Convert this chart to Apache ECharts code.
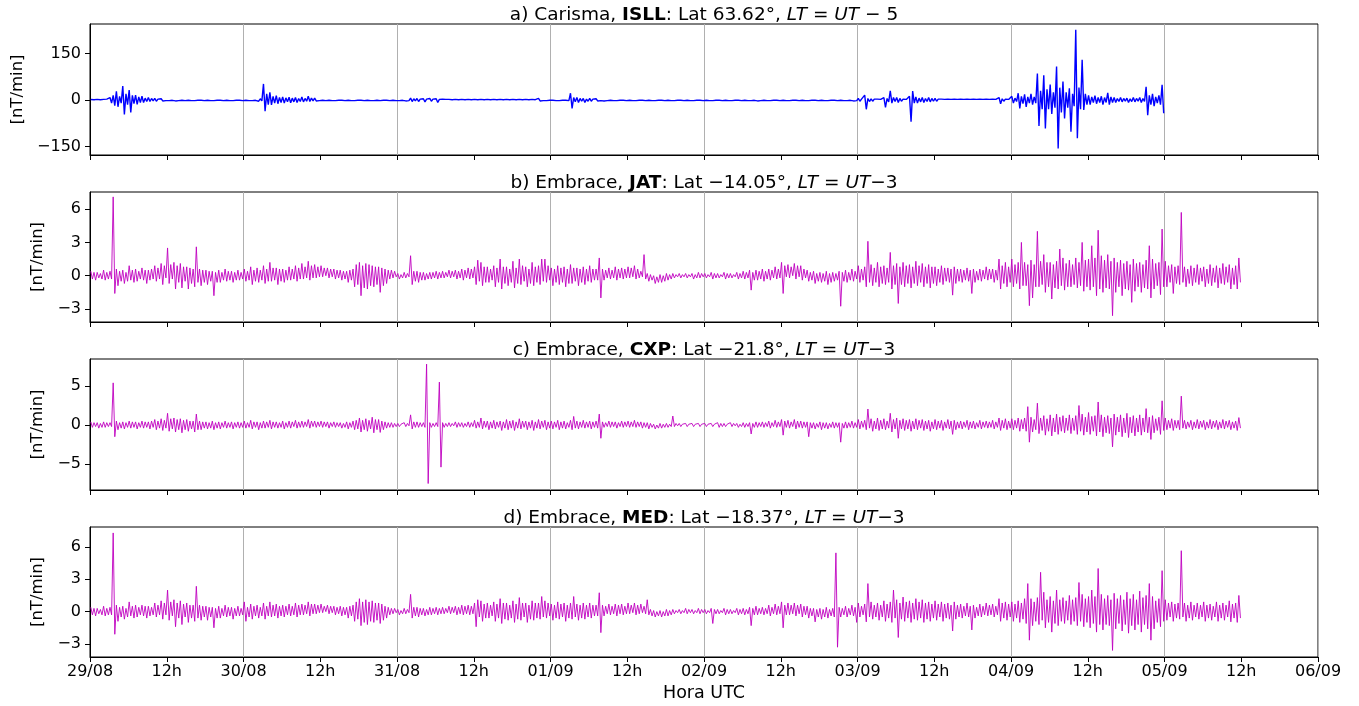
<!DOCTYPE html>
<html><head><meta charset="utf-8">
<script src="https://cdn.jsdelivr.net/npm/echarts@6/dist/echarts.min.js"></script>
<style>html,body{margin:0;padding:0;background:#fff}#c{width:1359px;height:706px}</style>
</head><body><div id="c"></div>
<script>
// ---- tick labels ----
const dayLabels = ['29/08','30/08','31/08','01/09','02/09','03/09','04/09','05/09','06/09'];
const halfDayLabel = '12h';
const xAxisName = 'Hora UTC';
const yAxisName = '[nT/min]';

// Values are half-hourly max / min (nT/min);
// entry k covers hours [k/2, k/2 + 0.5) after 29/08 00h UTC.

// ---- panel a) Carisma ISLL ----
const aHi = [
 1.5,1, 2,1, 2,3, 8,15, 28,12, 45,20,
 32,15, 16,10, 12,6, 8,5, 5,3, 4,3,
 3,2, 4,2, 2,1, 2,1, 3,1, 2,1,
 2,1, 2,1, 3,1, 2,1, 2,1, 2,1,
 2,1, 2,1, 3,4, 52,20, 25,12, 14,8,
 10,7, 9,6, 8,5, 10,5, 12,6, 6,3,
 3,1, 2,1, 2,1, 2,1, 2,1, 2,1,
 2,1, 2,1, 3,1, 4,2, 2,1, 2,1,
 2,1, 3,2, 6,4, 5,3, 4,3, 5,3,
 4,2, 3,2, 2,1, 2,1, 2,1, 2,1,
 2,1, 2,1, 2,1, 2,1, 2,1, 2,1,
 2,1, 2,1, 2,1, 2,1, 5,3, 3,2,
 2,1, 2,1, 2,1, 22,8, 8,5, 5,3,
 5,3, 4,2, 3,2, 2,1, 2,1, 2,1,
 2,1, 2,1, 2,1, 2,1, 2,1, 2,1,
 2,1, 2,1, 2,1, 2,1, 2,1, 2,1,
 2,1, 2,1, 2,1, 2,1, 2,1, 2,1,
 2,1, 2,1, 4,2, 2,1, 2,1, 2,1,
 2,1, 2,1, 2,1, 2,1, 2,1, 2,1,
 2,1, 2,1, 2,1, 2,1, 2,1, 3,2,
 5,3, 16,5, 4,3, 3,2, 8,5, 30,8,
 8,5, 3,2, 12,29, 10,6, 8,5, 8,5,
 5,3, 3,2, 3,2, 3,2, 3,2, 3,2,
 3,2, 3,2, 3,2, 3,2, 8,4, 3,2,
 12,6, 22,12, 18,10, 20,10, 86,30, 80,35,
 50,25, 108,40, 60,25, 38,20, 227,40, 130,20,
 15,10, 14,8, 12,8, 23,10, 8,5, 8,5,
 6,4, 8,5, 8,5, 43,15, 20,10, 15,49];
const aLo = [
 -1,-1.5, -1,-1.5, -2,-1, -10,-18, -22,-10, -47,-15,
 -40,-12, -14,-8, -8,-5, -5,-3, -4,-2, -3,-2,
 -2,-1, -3,-2, -1,-2, -1,-2, -2,-1, -1,-2,
 -1,-2, -2,-1, -1,-2, -1,-2, -2,-1, -1,-2,
 -1,-2, -2,-1, -4,-3, -36,-15, -16,-10, -12,-8,
 -10,-6, -9,-6, -8,-5, -6,-4, -5,-3, -3,-2,
 -1,-2, -1,-2, -2,-1, -1,-2, -1,-2, -2,-1,
 -1,-2, -1,-2, -2,-1, -2,-1, -1,-2, -1,-2,
 -2,-1, -3,-2, -5,-3, -5,-3, -6,-3, -4,-2,
 -8,-3, -3,-2, -1,-2, -2,-1, -1,-2, -1,-2,
 -2,-1, -1,-2, -1,-2, -2,-1, -1,-2, -1,-2,
 -2,-1, -1,-2, -1,-2, -2,-1, -3,-2, -2,-1,
 -1,-2, -2,-1, -1,-2, -27,-6, -8,-4, -8,-4,
 -4,-2, -3,-2, -3,-2, -1,-2, -2,-1, -1,-2,
 -1,-2, -2,-1, -1,-2, -1,-2, -2,-1, -1,-2,
 -1,-2, -2,-1, -1,-2, -1,-2, -2,-1, -1,-2,
 -1,-2, -2,-1, -1,-2, -1,-2, -2,-1, -1,-2,
 -1,-2, -2,-1, -3,-2, -1,-2, -2,-1, -1,-2,
 -1,-2, -2,-1, -1,-2, -1,-2, -2,-1, -1,-2,
 -1,-2, -2,-1, -1,-2, -1,-2, -2,-1, -3,-2,
 -4,-3, -30,-5, -4,-3, -3,-2, -24,-6, -10,-5,
 -8,-4, -3,-2, -70,-10, -10,-6, -8,-5, -6,-4,
 -4,-2, -2,-1, -2,-1, -2,-1, -2,-1, -2,-1,
 -2,-1, -2,-1, -2,-1, -2,-1, -12,-4, -3,-2,
 -10,-5, -27,-12, -22,-10, -15,-10, -84,-30, -92,-30,
 -45,-25, -157,-40, -60,-25, -103,-20, -124,-30, -32,-15,
 -15,-8, -12,-8, -15,-8, -15,-8, -8,-5, -6,-4,
 -8,-5, -6,-4, -8,-5, -49,-15, -20,-10, -15,-43];

// ---- panel b) Embrace JAT ----
const bHi = [
 0.4,0.3, 0.3,0.2, 0.5,0.3, 0.4,7.1, 0.6,0.4, 0.5,0.3,
 0.9,0.5, 0.6,0.4, 0.7,0.5, 0.5,0.6, 0.9,0.7, 1.1,0.9,
 2.5,1.0, 1.2,0.9, 1.1,0.8, 0.8,0.7, 0.6,2.6, 0.6,0.5,
 0.5,0.4, 0.4,0.3, 0.5,0.3, 0.6,0.4, 0.4,0.3, 0.5,0.3,
 0.6,0.4, 0.8,0.5, 0.7,0.5, 0.9,0.6, 1.2,0.7, 0.7,0.6,
 0.6,0.5, 0.8,0.6, 0.9,0.7, 1.1,0.8, 1.3,0.9, 1.0,0.8,
 0.9,0.7, 0.7,0.6, 0.6,0.5, 0.5,0.4, 0.4,0.5, 0.6,1.0,
 1.2,0.9, 1.1,1.0, 0.9,0.8, 0.8,0.7, 0.6,0.5, 0.5,0.4,
 0.2,0.1, 0.3,0.2, 1.8,0.4, 0.4,0.3, 0.3,0.2, 0.3,0.3,
 0.4,0.3, 0.4,0.3, 0.5,0.4, 0.5,0.4, 0.6,0.5, 0.7,0.6,
 0.8,1.4, 1.2,0.8, 0.8,0.6, 0.9,0.7, 1.5,0.8, 0.8,0.6,
 1.3,0.7, 1.5,0.9, 0.8,0.6, 1.2,0.8, 0.9,1.5, 1.5,0.9,
 0.7,0.6, 0.9,0.7, 0.8,0.6, 1.0,0.7, 0.7,0.6, 0.8,0.6,
 0.9,0.6, 0.6,1.6, 0.6,0.5, 0.7,0.5, 0.8,0.6, 0.7,0.6,
 0.8,0.7, 0.9,0.6, 0.4,1.9, 0.2,0.1, 0.0,-0.1, 0.1,0.0,
 0.2,0.1, 0.2,0.1, 0.2,0.1, 0.2,0.1, 0.2,0.1, 0.3,0.2,
 0.2,0.1, 0.3,0.2, 0.2,0.1, 0.3,0.2, 0.2,0.1, 0.3,0.2,
 0.4,0.3, 0.5,0.3, 0.5,0.4, 0.6,0.4, 0.6,0.5, 0.8,0.6,
 1.2,0.9, 1.0,0.8, 1.1,0.9, 0.9,0.6, 0.5,0.3, 0.4,0.2,
 0.3,0.2, 0.4,0.2, 0.3,0.2, 0.4,0.3, 0.5,0.3, 0.6,0.4,
 0.9,0.6, 0.8,3.1, 1.0,0.7, 1.2,0.8, 0.9,0.7, 2.1,0.9,
 1.1,0.8, 1.2,0.9, 1.0,0.8, 1.3,0.9, 1.1,0.8, 1.0,0.8,
 0.8,0.6, 0.9,0.7, 0.7,0.6, 0.8,0.6, 0.6,0.5, 0.7,0.5,
 0.6,0.4, 0.6,0.5, 0.8,0.6, 0.6,0.5, 1.5,0.9, 1.2,0.8,
 1.5,1.0, 1.2,3.0, 1.2,1.0, 1.4,1.0, 4.0,1.3, 1.9,1.2,
 1.2,1.0, 1.3,2.4, 1.6,1.1, 1.4,1.0, 1.6,1.2, 3.0,1.4,
 1.5,2.7, 1.6,4.1, 1.8,1.4, 1.9,1.3, 1.6,1.2, 1.4,1.1,
 1.3,1.0, 1.5,1.1, 1.2,1.0, 1.4,2.7, 1.5,1.1, 1.2,4.2,
 1.3,0.9, 1.0,0.8, 0.9,5.7, 0.8,0.6, 0.9,0.7, 1.0,0.7,
 0.8,0.6, 1.0,0.7, 0.9,0.7, 1.1,0.8, 1.0,0.7, 0.9,1.6];
const bLo = [
 -0.3,-0.4, -0.2,-0.3, -0.4,-0.3, -0.3,-1.6, -0.9,-0.5, -0.7,-0.5,
 -0.4,-0.6, -0.5,-0.3, -0.4,-0.7, -0.4,-0.3, -0.5,-0.3, -0.8,-0.2,
 -0.7,-0.3, -1.2,-0.6, -1.1,-0.5, -1.2,-0.7, -1.0,-0.6, -0.9,-0.6,
 -0.8,-0.5, -1.8,-0.6, -0.6,-0.4, -0.5,-0.4, -0.6,-0.4, -0.4,-0.3,
 -0.5,-0.4, -0.8,-0.5, -0.6,-0.4, -0.7,-0.5, -0.5,-0.4, -0.8,-0.5,
 -0.6,-0.4, -0.4,-0.3, -0.5,-0.3, -0.3,-0.2, -0.4,-0.2, -0.2,-0.1,
 -0.1,0.0, -0.2,-0.1, -0.3,-0.2, -0.4,-0.3, -0.6,-0.4, -1.0,-0.8,
 -1.8,-1.1, -1.2,-0.9, -1.0,-0.8, -1.5,-0.9, -0.7,-0.3, -0.2,-0.1,
 -0.3,-0.2, -0.2,-0.1, -0.8,-0.5, -0.6,-0.4, -0.4,-0.3, -0.3,-0.2,
 -0.3,-0.2, -0.2,-0.1, -0.2,-0.1, -0.3,-0.2, -0.4,-0.2, -0.3,-0.2,
 -0.8,-0.5, -0.9,-0.6, -0.6,-0.4, -1.0,-0.6, -1.2,-0.7, -0.9,-0.6,
 -1.1,-0.7, -0.8,-0.5, -1.0,-0.7, -0.9,-0.6, -0.8,-0.5, -0.6,-0.4,
 -0.9,-0.6, -0.8,-0.6, -1.0,-0.7, -0.7,-0.5, -0.9,-0.6, -0.8,-0.5,
 -0.6,-0.4, -0.4,-2.0, -0.4,-0.2, -0.3,-0.2, -0.4,-0.2, -0.3,-0.2,
 -0.2,-0.1, -0.3,-0.2, -0.1,-0.3, -0.5,-0.4, -0.7,-0.6, -0.6,-0.5,
 -0.4,-0.3, -0.2,-0.1, -0.2,-0.1, -0.2,-0.1, -0.3,-0.2, -0.2,-0.1,
 -0.2,-0.1, -0.3,-0.2, -0.2,-0.1, -0.3,-0.2, -0.2,-0.1, -0.3,-0.2,
 -0.3,-0.2, -1.3,-0.4, -0.4,-0.3, -0.5,-0.3, -0.4,-0.2, -0.3,-0.2,
 -1.6,-0.1, -0.2,0.0, -0.3,-0.1, -0.4,-0.2, -0.5,-0.4, -0.7,-0.5,
 -0.6,-0.5, -0.8,-0.6, -0.5,-0.4, -2.75,-0.5, -0.6,-0.4, -0.5,-0.3,
 -0.6,-0.4, -1.0,-0.6, -0.9,-0.6, -1.0,-0.7, -0.8,-0.6, -1.2,-0.8,
 -2.5,-0.8, -1.0,-0.7, -1.1,-0.7, -0.9,-0.6, -1.0,-0.7, -1.1,-0.7,
 -0.9,-0.6, -0.8,-0.5, -0.6,-1.75, -0.7,-0.5, -0.6,-0.4, -0.5,-1.6,
 -0.6,-0.4, -0.5,-0.3, -0.4,-0.3, -0.6,-0.4, -1.2,-0.7, -1.0,-0.6,
 -1.0,-0.7, -1.2,-0.9, -0.9,-2.7, -2.0,-1.0, -1.0,-0.8, -1.5,-1.0,
 -2.1,-1.1, -1.2,-0.9, -1.3,-1.0, -1.0,-0.8, -1.1,-0.9, -1.4,-1.0,
 -1.3,-1.0, -1.8,-1.2, -1.5,-1.1, -1.2,-3.6, -1.5,-1.0, -1.8,-1.2,
 -1.3,-2.4, -1.4,-1.0, -1.5,-1.1, -1.2,-2.0, -1.2,-0.9, -1.7,-1.0,
 -1.0,-0.6, -1.6,-0.7, -0.8,-0.6, -1.0,-0.7, -0.9,-0.6, -0.8,-0.5,
 -1.0,-0.7, -0.9,-0.6, -1.1,-0.7, -0.8,-0.6, -1.2,-0.8, -1.2,-0.6];

// ---- panel c) Embrace CXP ----
const cHi = [
 0.4,0.3, 0.3,0.2, 0.4,0.3, 0.3,5.4, 0.5,0.3, 0.4,0.3,
 0.5,0.4, 0.4,0.3, 0.5,0.4, 0.4,0.5, 0.7,0.5, 0.8,0.6,
 1.5,0.8, 0.9,0.7, 0.8,0.6, 0.7,0.5, 0.5,1.4, 0.5,0.4,
 0.4,0.3, 0.5,0.3, 0.4,0.3, 0.5,0.3, 0.4,0.3, 0.4,0.3,
 0.5,0.3, 0.6,0.4, 0.4,0.3, 0.5,0.4, 0.6,0.4, 0.4,0.3,
 0.5,0.3, 0.5,0.4, 0.6,0.4, 0.5,0.4, 0.7,0.5, 0.5,0.4,
 0.5,0.4, 0.4,0.3, 0.4,0.3, 0.3,0.2, 0.4,0.3, 0.5,0.6,
 0.9,0.6, 0.8,0.6, 1.0,0.7, 0.7,0.5, 0.4,0.3, 0.3,0.2,
 0.2,0.1, 0.3,0.2, 1.3,0.4, 0.4,0.3, 0.3,7.8, 0.3,0.2,
 0.3,5.5, 0.3,0.2, 0.3,0.2, 0.4,0.3, 0.3,0.2, 0.4,0.3,
 0.6,0.4, 0.9,0.5, 0.5,0.4, 0.6,0.4, 0.5,0.4, 0.7,0.5,
 0.6,0.4, 0.8,0.5, 0.5,0.4, 0.6,0.4, 0.7,0.5, 0.6,0.4,
 0.5,0.4, 0.6,0.4, 0.5,0.3, 0.6,1.1, 0.5,0.4, 0.6,0.4,
 0.5,0.4, 0.5,1.4, 0.4,0.3, 0.5,0.4, 0.4,0.3, 0.5,0.4,
 0.5,0.4, 0.6,0.4, 0.4,0.3, 0.3,0.2, 0.1,0.0, 0.2,0.1,
 0.2,0.1, 1.15,0.2, 0.2,0.1, 0.2,0.1, 0.2,0.1, 0.2,0.1,
 0.2,0.1, 0.2,0.1, 0.3,0.2, 0.2,0.1, 0.3,0.2, 0.2,0.1,
 0.3,0.2, 0.3,0.2, 0.4,0.3, 0.4,0.3, 0.5,0.3, 0.6,0.4,
 0.7,0.5, 0.6,0.4, 0.7,0.5, 0.5,0.4, 0.4,0.3, 0.3,0.2,
 0.4,0.3, 0.3,0.2, 0.4,0.3, 0.3,0.2, 0.4,0.3, 0.5,0.3,
 0.7,0.5, 0.6,2.05, 0.8,0.5, 0.9,0.6, 0.8,0.5, 1.5,0.7,
 0.9,0.6, 0.8,0.6, 0.7,0.5, 0.8,0.6, 0.7,0.5, 0.6,0.4,
 0.7,0.5, 0.6,0.4, 0.7,0.5, 0.6,0.4, 0.5,0.4, 0.6,0.4,
 0.5,0.3, 0.6,0.4, 0.5,0.4, 0.6,0.4, 0.9,0.6, 0.8,0.5,
 0.8,0.6, 0.9,0.7, 0.9,2.35, 1.0,0.7, 2.8,0.9, 1.2,0.8,
 1.3,0.9, 1.4,1.0, 1.2,0.9, 1.3,0.9, 1.2,2.5, 1.4,1.0,
 1.6,1.1, 1.2,2.95, 1.3,1.0, 1.2,0.9, 1.4,1.0, 1.3,0.9,
 1.5,1.0, 1.2,0.9, 1.3,0.9, 2.1,1.0, 1.2,0.8, 1.0,3.1,
 0.9,0.6, 0.8,0.6, 0.6,3.7, 0.6,0.4, 0.6,0.4, 0.7,0.5,
 0.6,0.4, 0.7,0.5, 0.6,0.4, 0.7,0.5, 0.6,0.4, 0.5,0.95];
const cLo = [
 -0.3,-0.2, -0.4,-0.3, -0.3,-0.2, -0.2,-1.5, -0.6,-0.4, -0.5,-0.3,
 -0.4,-0.3, -0.5,-0.3, -0.4,-0.3, -0.5,-0.3, -0.6,-0.4, -0.7,-0.4,
 -0.8,-0.5, -0.9,-0.6, -1.0,-0.6, -0.8,-0.5, -0.9,-0.6, -0.6,-0.4,
 -0.5,-0.4, -0.6,-0.4, -0.5,-0.3, -0.4,-0.3, -0.5,-0.3, -0.4,-0.3,
 -0.4,-0.3, -0.5,-0.3, -0.6,-0.4, -0.4,-0.3, -0.5,-0.3, -0.4,-0.3,
 -0.5,-0.3, -0.4,-0.2, -0.4,-0.3, -0.3,-0.2, -0.4,-0.2, -0.3,-0.2,
 -0.3,-0.2, -0.4,-0.2, -0.3,-0.2, -0.4,-0.3, -0.5,-0.3, -0.6,-0.5,
 -0.9,-0.6, -0.8,-0.5, -1.0,-0.6, -0.95,-0.6, -0.4,-0.3, -0.3,-0.2,
 -0.2,-0.1, -0.2,-0.1, -0.5,-0.3, -0.3,-0.2, -0.3,-7.5, -0.3,-0.2,
 -0.2,-5.4, -0.3,-0.2, -0.2,-0.1, -0.3,-0.2, -0.3,-0.2, -0.3,-0.2,
 -0.4,-0.3, -0.5,-0.3, -0.6,-0.4, -0.5,-0.3, -0.7,-0.4, -0.6,-0.4,
 -0.7,-0.4, -0.5,-0.3, -0.6,-0.4, -0.7,-0.4, -0.5,-0.3, -0.6,-0.4,
 -0.5,-0.3, -0.6,-0.4, -0.5,-0.3, -0.6,-0.4, -0.5,-0.3, -0.4,-0.3,
 -0.5,-0.3, -0.4,-1.7, -0.3,-0.2, -0.3,-0.2, -0.4,-0.2, -0.3,-0.2,
 -0.3,-0.2, -0.3,-0.2, -0.4,-0.3, -0.5,-0.3, -0.5,-0.4, -0.4,-0.3,
 -0.3,-0.2, -0.2,-0.1, -0.2,-0.1, -0.2,-0.1, -0.2,-0.1, -0.2,-0.1,
 -0.2,-0.1, -0.2,-0.1, -0.3,-0.2, -0.2,-0.1, -0.2,-0.1, -0.3,-0.2,
 -0.3,-0.2, -1.15,-0.3, -0.3,-0.2, -0.3,-0.2, -0.4,-0.2, -0.3,-0.2,
 -1.3,-0.3, -0.4,-0.2, -0.5,-0.3, -0.4,-0.3, -1.5,-0.4, -0.5,-0.3,
 -0.6,-0.4, -0.5,-0.3, -0.4,-0.3, -2.2,-0.4, -0.4,-0.3, -0.4,-0.3,
 -0.5,-0.3, -0.6,-0.4, -0.8,-0.5, -0.7,-0.5, -0.6,-0.4, -0.9,-0.5,
 -1.7,-0.5, -0.7,-0.5, -0.8,-0.5, -0.6,-0.4, -0.7,-0.5, -0.8,-0.5,
 -0.6,-0.4, -0.7,-0.4, -0.5,-1.2, -0.6,-0.4, -0.5,-0.3, -0.6,-0.4,
 -0.5,-0.3, -0.5,-0.3, -0.4,-0.3, -0.5,-0.3, -0.7,-0.4, -0.6,-0.4,
 -0.6,-0.4, -0.8,-0.5, -0.8,-2.2, -0.9,-0.6, -1.1,-0.7, -1.3,-0.8,
 -1.4,-0.9, -1.2,-0.8, -1.0,-0.7, -1.1,-0.7, -1.2,-0.8, -1.3,-0.9,
 -1.2,-0.8, -1.4,-0.9, -1.5,-1.0, -1.1,-2.8, -1.3,-0.9, -1.5,-1.0,
 -1.6,-1.0, -1.4,-0.9, -1.3,-0.9, -1.0,-1.85, -1.0,-0.7, -1.2,-0.7,
 -0.6,-0.4, -0.7,-0.4, -0.6,-0.4, -0.5,-0.3, -0.6,-0.4, -0.5,-0.3,
 -0.6,-0.4, -0.5,-0.3, -0.6,-0.4, -0.5,-0.3, -0.6,-0.4, -0.7,-0.4];

// ---- panel d) Embrace MED ----
const dHi = [
 0.4,0.3, 0.3,0.2, 0.5,0.3, 0.4,7.3, 0.6,0.4, 0.5,0.3,
 0.9,0.5, 0.6,0.4, 0.6,0.5, 0.5,0.4, 0.8,0.6, 1.0,0.8,
 2.0,0.9, 1.1,0.8, 1.0,0.7, 0.8,0.6, 0.6,2.35, 0.6,0.5,
 0.5,0.4, 0.4,0.3, 0.5,0.3, 0.6,0.4, 0.4,0.3, 0.5,0.3,
 0.9,0.4, 0.7,0.5, 0.6,0.4, 0.8,0.5, 0.9,0.6, 0.7,0.5,
 0.6,0.5, 0.7,0.5, 0.8,0.6, 0.7,0.6, 0.9,0.7, 0.7,0.6,
 0.7,0.5, 0.6,0.5, 0.5,0.4, 0.5,0.4, 0.4,0.5, 0.6,0.9,
 1.2,0.9, 1.1,0.9, 1.0,0.8, 0.8,0.7, 0.5,0.4, 0.3,0.3,
 0.2,0.1, 0.3,0.2, 1.6,0.4, 0.4,0.3, 0.3,0.2, 0.4,0.3,
 0.4,0.3, 0.4,0.3, 0.5,0.4, 0.5,0.4, 0.6,0.5, 0.6,0.5,
 0.8,1.1, 1.0,0.7, 0.8,0.6, 0.9,0.7, 1.2,0.8, 0.8,0.6,
 1.0,0.7, 1.3,0.8, 0.8,0.6, 1.0,0.8, 0.8,1.4, 1.0,0.8,
 0.7,0.6, 0.9,0.7, 0.8,0.6, 0.8,1.4, 0.7,0.6, 0.8,0.6,
 0.8,0.6, 0.6,1.75, 0.6,0.5, 0.7,0.5, 0.7,0.6, 0.7,0.5,
 0.8,0.6, 0.8,0.6, 0.7,0.5, 1.1,0.2, 0.1,0.0, 0.1,0.0,
 0.2,0.1, 0.2,0.1, 0.2,0.1, 0.3,0.2, 0.2,0.1, 0.3,0.2,
 0.2,0.1, 0.3,0.2, 0.2,0.1, 0.3,0.2, 0.2,0.1, 0.3,0.2,
 0.3,0.2, 0.4,0.3, 0.5,0.3, 0.4,0.3, 0.6,0.4, 0.7,0.5,
 0.9,0.6, 0.8,0.6, 0.8,0.6, 0.7,0.5, 0.5,0.3, 0.3,0.2,
 0.3,0.2, 0.4,0.2, 0.3,5.45, 0.4,0.3, 0.5,0.3, 0.6,0.4,
 0.8,0.5, 0.7,2.6, 0.9,0.6, 0.8,0.6, 1.0,0.7, 0.9,2.0,
 1.1,0.8, 1.35,0.9, 1.0,0.8, 1.2,0.9, 1.1,0.8, 0.9,0.7,
 1.0,0.7, 0.9,0.7, 0.8,0.6, 0.9,0.6, 0.7,0.5, 0.8,0.5,
 0.6,0.4, 0.7,0.5, 0.8,0.6, 0.7,0.5, 1.2,0.8, 0.9,0.7,
 0.9,0.7, 1.0,0.8, 1.2,2.6, 1.2,0.9, 1.3,3.65, 1.8,1.1,
 1.4,1.0, 2.0,1.1, 1.3,1.0, 1.5,1.1, 1.3,2.7, 1.6,1.2,
 1.4,2.0, 1.4,4.0, 1.6,1.2, 1.5,1.1, 1.7,1.2, 1.5,1.1,
 1.8,1.2, 1.6,1.1, 1.9,1.3, 1.5,2.6, 1.4,1.0, 1.2,3.8,
 1.1,0.8, 0.9,0.7, 0.8,5.65, 0.8,0.6, 0.9,0.6, 0.8,0.6,
 0.9,0.6, 0.7,0.5, 0.9,0.6, 0.8,0.6, 1.0,0.7, 0.8,1.5];
const dLo = [
 -0.3,-0.4, -0.2,-0.3, -0.4,-0.3, -0.3,-2.1, -0.9,-0.5, -0.7,-0.5,
 -0.4,-0.6, -0.5,-0.3, -0.4,-0.6, -0.4,-0.3, -0.5,-0.3, -0.7,-0.3,
 -0.8,-0.4, -1.4,-0.6, -1.2,-0.5, -1.0,-0.6, -0.9,-0.6, -0.8,-0.5,
 -0.8,-0.5, -1.5,-0.6, -0.6,-0.4, -0.5,-0.4, -0.7,-0.4, -0.4,-0.3,
 -0.9,-0.5, -0.7,-0.4, -0.6,-0.4, -0.7,-0.4, -0.5,-0.4, -0.6,-0.4,
 -0.5,-0.3, -0.4,-0.3, -0.5,-0.3, -0.3,-0.2, -0.4,-0.2, -0.2,-0.1,
 -0.1,0.0, -0.2,-0.1, -0.3,-0.2, -0.4,-0.3, -0.6,-0.4, -0.9,-0.7,
 -1.3,-1.0, -1.2,-0.9, -1.0,-0.8, -1.1,-0.8, -0.6,-0.3, -0.2,-0.1,
 -0.3,-0.2, -0.2,-0.1, -0.6,-0.4, -0.5,-0.3, -0.4,-0.3, -0.3,-0.2,
 -0.3,-0.2, -0.2,-0.1, -0.2,-0.1, -0.3,-0.2, -0.3,-0.2, -0.3,-0.2,
 -1.4,-0.5, -0.9,-0.6, -0.6,-0.4, -0.9,-0.6, -1.1,-0.7, -0.8,-0.6,
 -1.0,-0.7, -0.8,-0.5, -1.0,-0.7, -0.8,-0.6, -0.7,-0.5, -0.6,-0.4,
 -0.8,-0.6, -0.7,-0.5, -0.9,-0.6, -0.7,-0.5, -0.8,-0.6, -0.7,-0.5,
 -0.6,-0.4, -0.4,-1.95, -0.4,-0.2, -0.3,-0.2, -0.4,-0.2, -0.3,-0.2,
 -0.2,-0.1, -0.3,-0.2, -0.1,-0.2, -0.3,-0.4, -0.5,-0.4, -0.5,-0.4,
 -0.4,-0.3, -0.2,-0.1, -0.2,-0.1, -0.2,-0.1, -0.2,-0.1, -0.2,-0.1,
 -0.2,-0.1, -1.1,-0.2, -0.2,-0.1, -0.3,-0.2, -0.2,-0.1, -0.3,-0.2,
 -0.3,-0.2, -1.3,-0.3, -0.3,-0.2, -0.3,-0.2, -0.4,-0.2, -0.3,-0.2,
 -1.5,-0.3, -0.3,-0.2, -0.4,-0.2, -0.5,-0.3, -0.6,-0.4, -0.95,-0.5,
 -0.7,-0.5, -0.6,-0.4, -0.5,-3.3, -0.5,-0.3, -0.5,-0.3, -0.4,-1.0,
 -0.5,-0.3, -0.95,-0.5, -0.7,-0.5, -0.8,-0.5, -0.9,-0.6, -1.0,-0.6,
 -2.4,-0.7, -0.9,-0.6, -1.0,-0.7, -0.8,-0.6, -1.0,-0.7, -0.9,-0.6,
 -0.8,-0.5, -0.9,-0.6, -0.7,-1.8, -0.7,-0.5, -0.6,-0.4, -0.5,-1.7,
 -0.6,-0.4, -0.5,-0.3, -0.4,-0.3, -0.5,-0.3, -0.9,-0.6, -0.8,-0.5,
 -0.9,-0.6, -1.0,-0.7, -1.1,-2.65, -1.3,-0.9, -1.2,-0.8, -1.5,-1.0,
 -1.9,-1.1, -1.3,-0.9, -1.1,-0.8, -1.2,-0.9, -1.3,-0.9, -1.4,-1.0,
 -1.5,-1.1, -1.9,-1.2, -1.7,-1.2, -1.3,-3.6, -1.6,-1.1, -1.8,-1.2,
 -2.0,-1.3, -1.7,-1.2, -1.9,-1.2, -1.6,-2.65, -1.6,-1.0, -1.4,-0.9,
 -0.8,-0.5, -0.9,-0.6, -0.7,-0.5, -0.9,-0.6, -0.8,-0.5, -0.7,-0.5,
 -0.9,-0.6, -0.8,-0.5, -0.9,-0.6, -0.8,-0.5, -0.95,-0.6, -1.0,-0.6];

// ---- axis ranges / ticks ----
const yMins = [-178, -4.17, -8.33, -4.21];
const yMaxs = [246, 7.54, 8.46, 7.85];
const yTicks = [[-150, 0, 150], [-3, 0, 3, 6], [-5, 0, 5], [-3, 0, 3, 6]];

// ---- titles ----
const titleParts = [
  ['a) Carisma, ', 'ISLL', ': Lat 63.62°, ', 'LT', ' = ', 'UT', ' − 5'],
  ['b) Embrace, ', 'JAT', ': Lat −14.05°, ', 'LT', ' = ', 'UT', '−3'],
  ['c) Embrace, ', 'CXP', ': Lat −21.8°, ', 'LT', ' = ', 'UT', '−3'],
  ['d) Embrace, ', 'MED', ': Lat −18.37°, ', 'LT', ' = ', 'UT', '−3']
];

// ---- layout ----
const PL = 90, PW = 1228;
const tops = [24, 192, 359, 527];
const heights = [131, 130, 131, 130];
const nameGaps = [62, 38, 38, 38];
const colors = ['#0000ff', '#bf00bf', '#bf00bf', '#bf00bf'];
const widths = [1.4, 0.9, 0.9, 0.9];
const FONT = 'DejaVu Sans';
const TFS = 18.5;

function env(hi, lo) {
  const out = [];
  for (let k = 0; k < hi.length; k++) {
    out.push([k * 0.5 + 0.125, hi[k]]);
    out.push([k * 0.5 + 0.375, lo[k]]);
  }
  return out;
}
const seriesData = [env(aHi, aLo), env(bHi, bLo), env(cHi, cLo), env(dHi, dLo)];

const minus = v => String(v).replace('-', '−');
const grid = [], xAxis = [], yAxis = [], series = [], title = [];
for (let i = 0; i < 4; i++) {
  grid.push({left: PL, width: PW, top: tops[i], height: heights[i], show: true, borderColor: '#000', borderWidth: 1, backgroundColor: '#fff'});
  const last = i === 3;
  xAxis.push({
    type: 'value', gridIndex: i, min: 0, max: 192, interval: 12,
    axisLine: {show: true, onZero: false, lineStyle: {color: '#000', width: 1}},
    axisTick: {show: true, inside: false, length: 5, lineStyle: {color: '#000', width: 1}},
    axisLabel: {show: last, margin: 7, fontFamily: FONT, fontSize: 16, color: '#000', hideOverlap: false,
      showMinLabel: true, showMaxLabel: true,
      formatter: v => (v % 24 === 0 ? dayLabels[v / 24] : halfDayLabel)},
    splitLine: {show: false},
    name: last ? xAxisName : '', nameLocation: 'middle', nameGap: 27,
    nameTextStyle: {fontFamily: FONT, fontSize: 17.5, color: '#000'}
  });
  xAxis.push({
    type: 'value', gridIndex: i, min: 0, max: 192, interval: 24,
    axisLine: {show: false}, axisTick: {show: false}, axisLabel: {show: false},
    splitLine: {show: true, lineStyle: {color: '#b0b0b0', width: 1}}
  });
  yAxis.push({
    type: 'value', gridIndex: i, min: yMins[i], max: yMaxs[i],
    axisLine: {show: true, onZero: false, lineStyle: {color: '#000', width: 1}},
    axisTick: {show: true, length: 5, customValues: yTicks[i], lineStyle: {color: '#000'}},
    axisLabel: {customValues: yTicks[i], margin: 9, fontFamily: FONT, fontSize: 16, color: '#000', formatter: minus},
    splitLine: {show: false},
    name: yAxisName, nameLocation: 'middle', nameGap: nameGaps[i], nameRotate: 90,
    nameTextStyle: {fontFamily: FONT, fontSize: 16.5, color: '#000'}
  });
  series.push({
    type: 'line', xAxisIndex: 2 * i, yAxisIndex: i, data: seriesData[i],
    showSymbol: false, symbol: 'none', animation: false, silent: true,
    lineStyle: {color: colors[i], width: widths[i]}
  });
  const p = titleParts[i];
  title.push({
    text: '{n|' + p[0] + '}{b|' + p[1] + '}{n|' + p[2] + '}{i|' + p[3] + '}{n|' + p[4] + '}{i|' + p[5] + '}{n|' + p[6] + '}',
    left: PL + PW / 2, top: tops[i] - 19, textAlign: 'center', padding: 0,
    textStyle: {fontWeight: 'normal', rich: {
      n: {fontFamily: FONT, fontSize: TFS, color: '#000', fontWeight: 'normal', lineHeight: 21},
      b: {fontFamily: FONT, fontSize: TFS, color: '#000', fontWeight: 'bold', lineHeight: 21},
      i: {fontFamily: FONT, fontSize: TFS, color: '#000', fontWeight: 'normal', fontStyle: 'italic', lineHeight: 21}
    }}
  });
}

const chart = echarts.init(document.getElementById('c'), null, {renderer: 'canvas'});
chart.setOption({animation: false, backgroundColor: '#fff', title, grid, xAxis, yAxis, series});
</script>
</body></html>
